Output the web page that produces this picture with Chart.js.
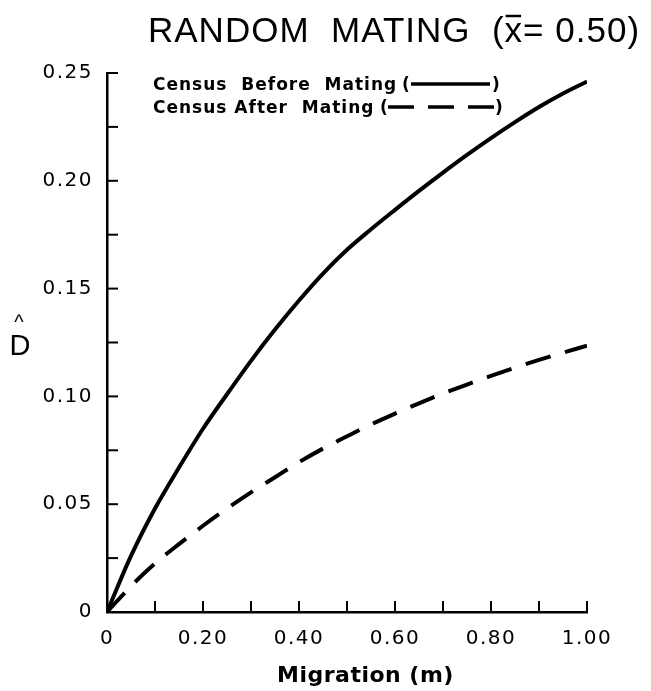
<!DOCTYPE html>
<html>
<head>
<meta charset="utf-8">
<script src="https://cdn.jsdelivr.net/npm/chart.js@4.4.1/dist/chart.umd.min.js"></script>
<style>
  html, body { margin: 0; padding: 0; background: #fff; }
  #wrap { width: 651px; height: 691px; }
</style>
</head>
<body>
<div id="wrap"><canvas id="chart" width="651" height="691"></canvas></div>
<script>
// values
const migration = [0, 0.05, 0.10, 0.15, 0.20, 0.25, 0.30, 0.35, 0.40, 0.45, 0.50,
                   0.55, 0.60, 0.65, 0.70, 0.75, 0.80, 0.85, 0.90, 0.95, 1.00];
const beforeMating = [0, 0.026, 0.048, 0.067, 0.085, 0.101, 0.1165, 0.131, 0.1445, 0.157, 0.168,
                      0.1775, 0.1865, 0.1953, 0.2038, 0.212, 0.2198, 0.2272, 0.2342, 0.2405, 0.246];
const afterMating = [0, 0.012, 0.0225, 0.0315, 0.040, 0.048, 0.0555, 0.0625, 0.0695, 0.0758, 0.0815,
                     0.087, 0.092, 0.0968, 0.1013, 0.1055, 0.1095, 0.1133, 0.1169, 0.1203, 0.1235];
const yTickLabels = ['0', '0.05', '0.10', '0.15', '0.20', '0.25'];
const xTickLabels = ['0', '0.20', '0.40', '0.60', '0.80', '1.00'];

const toPoints = (xs, ys) => xs.map((x, i) => ({ x: x, y: ys[i] }));

const TICK_FONT = { family: 'DejaVu Sans', size: 20 };

// inward tick marks, titles and the in-plot legend
const decorations = {
  id: 'decorations',
  beforeDraw(chart) {
    chart.ctx.letterSpacing = '1.5px';
  },
  afterDraw(chart) {
    const ctx = chart.ctx;
    const { left, bottom } = chart.chartArea;
    const xs = chart.scales.x;
    const ys = chart.scales.y;

    ctx.save();
    ctx.letterSpacing = '0px';
    ctx.strokeStyle = '#000';
    ctx.lineWidth = 2;
    ctx.lineCap = 'butt';
    xs.ticks.forEach(t => {
      const px = xs.getPixelForValue(t.value);
      if (px <= left + 1) return;
      ctx.beginPath();
      ctx.moveTo(px, bottom);
      ctx.lineTo(px, bottom - 11);
      ctx.stroke();
    });
    ys.ticks.forEach(t => {
      const py = ys.getPixelForValue(t.value);
      if (py >= bottom - 1) return;
      ctx.beginPath();
      ctx.moveTo(left, py);
      ctx.lineTo(left + 11, py);
      ctx.stroke();
    });

    ctx.fillStyle = '#000';
    ctx.textBaseline = 'alphabetic';

    // title
    ctx.font = '35px "Liberation Sans", Arial, sans-serif';
    ctx.letterSpacing = '1px';
    ctx.textAlign = 'left';
    let tx = 148;
    const part1 = 'RANDOM  MATING  (';
    ctx.fillText(part1, tx, 42);
    tx += ctx.measureText(part1).width;
    ctx.fillText('x', tx, 42);
    const xw = ctx.measureText('x').width;
    ctx.lineWidth = 2.5;
    ctx.beginPath();
    ctx.moveTo(tx + 1, 16);
    ctx.lineTo(tx + xw - 2, 16);
    ctx.stroke();
    tx += xw;
    ctx.fillText('= 0.50)', tx, 42);

    // axis titles
    ctx.font = 'bold 22px "DejaVu Sans", sans-serif';
    ctx.letterSpacing = '0.5px';
    ctx.fillText('Migration (m)', 277, 682);
    ctx.letterSpacing = '0px';
    ctx.font = '29px "Liberation Sans", Arial, sans-serif';
    ctx.textAlign = 'center';
    ctx.fillText('D', 20, 355);
    ctx.font = '20px "Liberation Sans", Arial, sans-serif';
    ctx.fillText('^', 19, 329);

    // legend
    ctx.textAlign = 'left';
    ctx.font = 'bold 17px "DejaVu Sans", sans-serif';
    ctx.letterSpacing = '1px';
    ctx.fillText('Census  Before  Mating', 153, 90);
    ctx.fillText('Census After  Mating', 153, 113);
    ctx.letterSpacing = '0px';
    ctx.fillText('(', 402, 90);
    ctx.fillText(')', 492, 90);
    ctx.fillText('(', 380, 113);
    ctx.fillText(')', 495, 113);
    ctx.lineWidth = 3.5;
    ctx.beginPath();
    ctx.moveTo(411, 84);
    ctx.lineTo(490, 84);
    ctx.stroke();
    ctx.setLineDash([26, 14]);
    ctx.beginPath();
    ctx.moveTo(388, 107);
    ctx.lineTo(494, 107);
    ctx.stroke();
    ctx.restore();
  }
};

new Chart(document.getElementById('chart'), {
  type: 'line',
  data: {
    datasets: [
      {
        label: 'Census Before Mating',
        data: toPoints(migration, beforeMating),
        borderColor: '#000',
        borderWidth: 4,
        pointRadius: 0,
        cubicInterpolationMode: 'monotone',
        fill: false
      },
      {
        label: 'Census After Mating',
        data: toPoints(migration, afterMating),
        borderColor: '#000',
        borderWidth: 4,
        borderDash: [26, 15],
        pointRadius: 0,
        cubicInterpolationMode: 'monotone',
        fill: false
      }
    ]
  },
  options: {
    responsive: false,
    animation: false,
    layout: { padding: { top: 73, right: 64, bottom: 0, left: 0 } },
    plugins: {
      legend: { display: false },
      title: { display: false },
      tooltip: { enabled: false }
    },
    scales: {
      x: {
        type: 'linear',
        min: 0,
        max: 1,
        border: { display: true, color: '#000', width: 2.5 },
        grid: { drawOnChartArea: false, drawTicks: false },
        ticks: {
          stepSize: 0.1,
          autoSkip: false,
          maxRotation: 0,
          padding: 15,
          color: '#000',
          font: TICK_FONT,
          callback: v => {
            const i = Math.round(v * 10);
            return i % 2 === 0 ? xTickLabels[i / 2] : '';
          }
        },
        afterFit: s => { s.height = 79; }
      },
      y: {
        type: 'linear',
        min: 0,
        max: 0.25,
        border: { display: true, color: '#000', width: 2.5 },
        grid: { drawOnChartArea: false, drawTicks: false },
        ticks: {
          stepSize: 0.025,
          autoSkip: false,
          padding: 14,
          color: '#000',
          font: TICK_FONT,
          callback: v => {
            const i = Math.round(v * 40);
            return i % 2 === 0 ? yTickLabels[i / 2] : '';
          }
        },
        afterFit: s => { s.width = 107; }
      }
    }
  },
  plugins: [decorations]
});
</script>
</body>
</html>
